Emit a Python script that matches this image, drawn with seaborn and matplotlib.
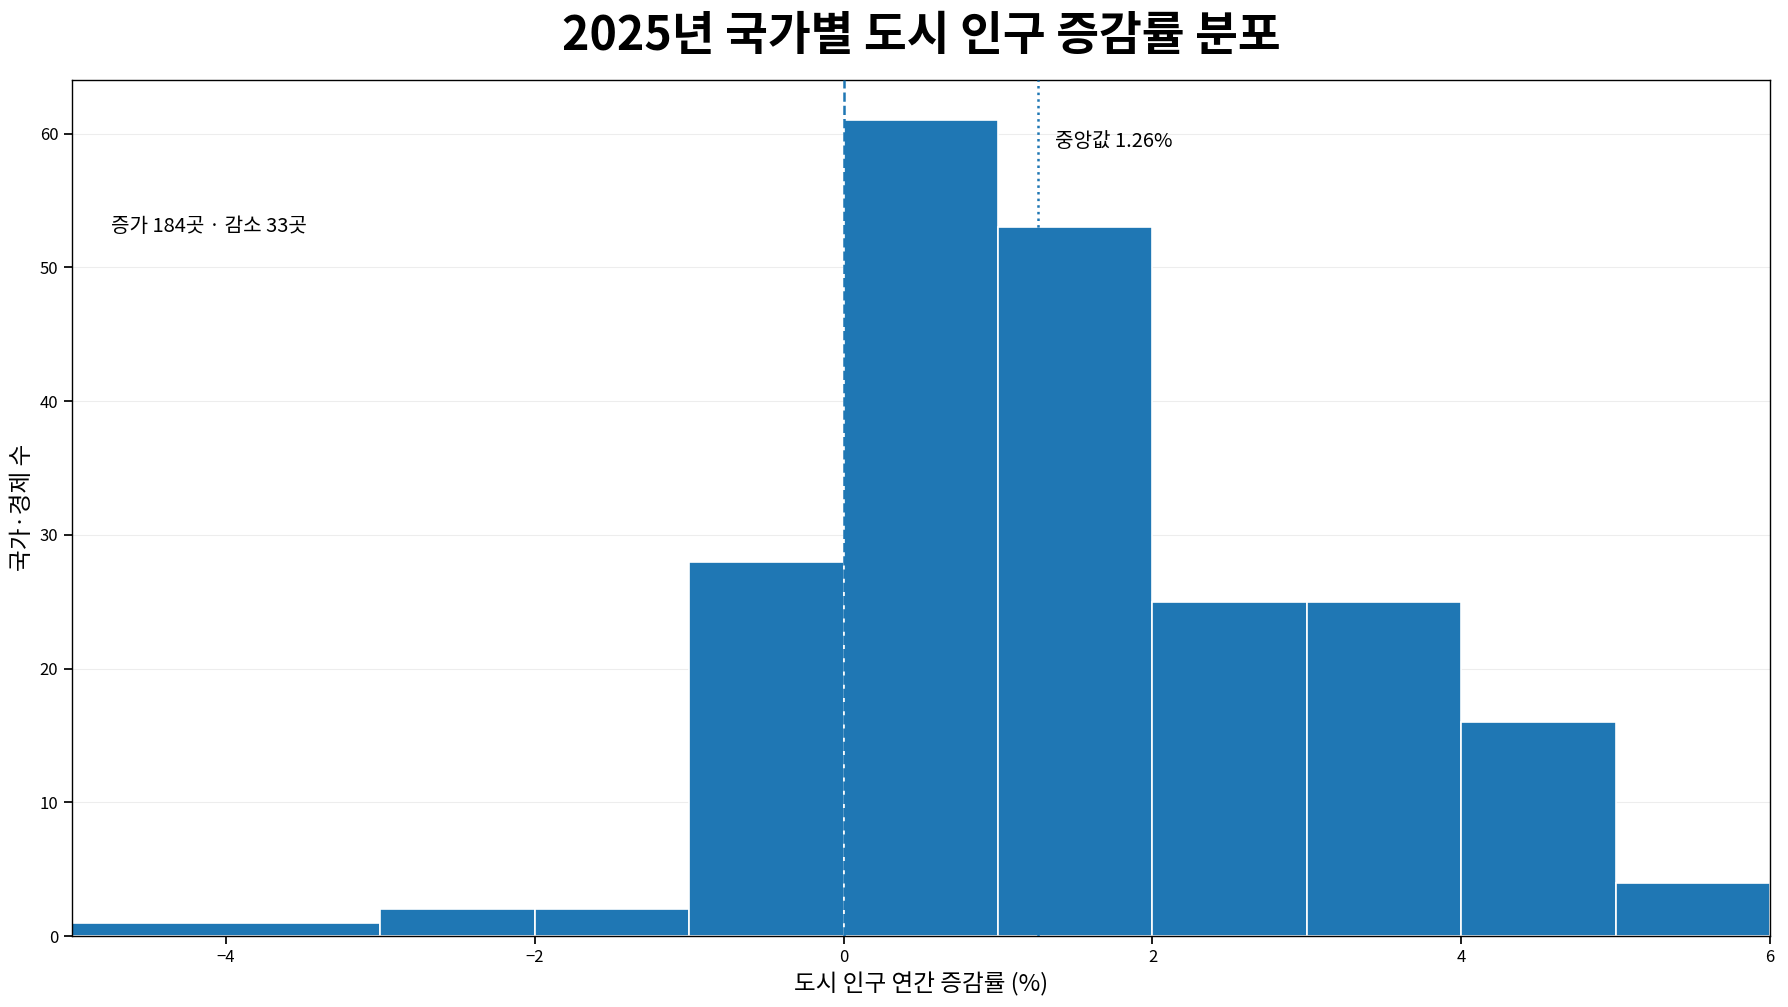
import numpy as np
import pandas as pd
import matplotlib
matplotlib.use("Agg")
import matplotlib.pyplot as plt
import seaborn as sb

# 구간 경계와 각 구간의 국가 수
bin_edges = [-5, -3, -2, -1, 0, 1, 2, 3, 4, 5, 6]
counts = [1, 2, 2, 28, 61, 53, 25, 25, 16, 4]
median_rate = 1.26
n_increase = 184
n_decrease = 33

sb.set_theme(style="ticks")
plt.rcParams['font.family'] = ['Noto Sans CJK KR', 'DejaVu Sans']
plt.rcParams['axes.unicode_minus'] = True
plt.rcParams['text.color'] = 'black'
plt.rcParams['axes.labelcolor'] = 'black'
plt.rcParams['xtick.color'] = 'black'
plt.rcParams['ytick.color'] = 'black'

df = pd.DataFrame({
    "rate": [(a + b) / 2 for a, b in zip(bin_edges[:-1], bin_edges[1:])],
    "count": counts,
})

fig, ax = plt.subplots(figsize=(17.88, 10.07), dpi=100)
fig.subplots_adjust(left=0.040, right=0.990, top=0.921, bottom=0.0705)

sb.histplot(data=df, x="rate", weights="count", bins=bin_edges,
            color="#1f77b4", alpha=1, edgecolor="white", linewidth=1.2, ax=ax)

# 기준선 (0%)과 중앙값
ax.axvline(0, color="#1f77b4", linestyle="--", linewidth=1.8, zorder=3)
ax.axvline(median_rate, color="#1f77b4", linestyle=":", linewidth=1.8, zorder=3)

ax.set_xlim(-5, 6)
ax.set_ylim(0, max(counts) * 1.05)
ax.yaxis.grid(True, color="#ededed", linewidth=0.8)
ax.set_axisbelow(True)
for s in ax.spines.values():
    s.set_visible(True)
    s.set_color("black")
    s.set_linewidth(1.0)

ax.text(median_rate + 0.11, 59.4, f"중앙값 {median_rate:.2f}%", fontsize=14.5, va="center")
ax.text(0.023, 0.828, f"증가 {n_increase}곳 · 감소 {n_decrease}곳", fontsize=14.5,
        va="center", transform=ax.transAxes)

ax.set_xlabel("도시 인구 연간 증감률 (%)", fontsize=17)
ax.set_ylabel("국가·경제 수", fontsize=17)
ax.tick_params(labelsize=12)

fig.suptitle("2025년 국가별 도시 인구 증감률 분포", fontsize=33.5, fontweight="bold",
             x=0.515, y=0.964, va="center")

fig.savefig("out.png", dpi=100)
